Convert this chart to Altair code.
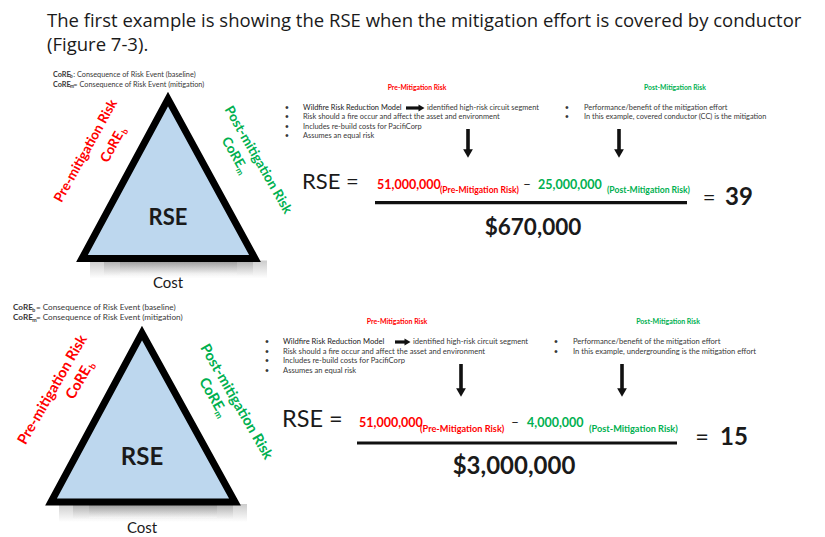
import math
import altair as alt
import pandas as pd

FONT = "Lato"
TITLE_FONT = "Open Sans"
RED = "#ff0000"
GREEN = "#00b050"
INK = "#111111"
GREY = "#383838"
TRI_FILL = "#bdd7ee"

# ---------------- content ----------------
title_lines = [
    "The first example is showing the RSE when the mitigation effort is covered by conductor",
    "(Figure 7-3).",
]
pre_risk = [51000000, 51000000]
post_risk = [25000000, 4000000]
cost = [670000, 3000000]
rse = [39, 15]
legend_sep = [":", "="]
legend_labels = ["baseline", "mitigation"]
legend_subs = ["b", "m"]
model_name = "Wildfire Risk Reduction Model"
model_result = "identified high-risk circuit segment"
pre_bullets = [
    "Risk should a fire occur and affect the asset and environment",
    "Includes re-build costs for PacifiCorp",
    "Assumes an equal risk",
]
post_bullet1 = "Performance/benefit of the mitigation effort"
mitigation = [
    "covered conductor (CC) is the mitigation",
    "undergrounding is the mitigation effort",
]

# ---------------- layout (page pixels) ----------------
L = [
    dict(leg_x=53, leg_y=[75, 85], leg=7.3,
         tri=(168, 99, 82, 255, 258.5),
         rse_t=(168, 218), rse_s=22, cost_t=(168, 283), cost_s=15,
         pre_lbl=(86, 151), post_lbl=(258, 160),
         core_l=(16, 21), core_r=(-19, 18),
         lbl=13.5, ang_l=299, ang_r=60,
         head_pre=(417, 88), head_post=(675, 88), head=6.8,
         bul_x=287, btxt_x=303, lines_y=[108, 117, 127, 136], bsz=7.4,
         arr=(406, 425), ident_x=427,
         rbul_x=567, rtxt_x=584,
         down_x=[468, 619], down_y=(129, 158),
         rse_eq=(302, 182), eq_s=22, pre_val=(377, 185), pre_sub=(440, 190),
         minus=(527, 185), post_val=(538, 185), post_sub=(607, 190), val=12.5, sub=8.6,
         frac=(375, 687, 202.7), cost_val=(533, 228), cv=22.5, eq=(709, 198), res=(725, 198), res_s=24),
    dict(leg_x=13, leg_y=[308, 318], leg=8.2,
         tri=(142, 333, 51, 235, 502),
         rse_t=(142, 458), rse_s=24, cost_t=(142, 528), cost_s=15,
         pre_lbl=(53, 390), post_lbl=(236, 402),
         core_l=(19, 19), core_r=(-19, 18),
         lbl=14.5, ang_l=300, ang_r=60,
         head_pre=(397, 322), head_post=(668, 322), head=7.0,
         bul_x=267, btxt_x=283, lines_y=[342, 352, 361, 371], bsz=7.6,
         arr=(395, 411), ident_x=413,
         rbul_x=556, rtxt_x=573,
         down_x=[461, 622], down_y=(364, 397),
         rse_eq=(282, 420), eq_s=23.5, pre_val=(359, 423), pre_sub=(420, 429),
         minus=(515, 423), post_val=(527, 423), post_sub=(589, 429), val=12.5, sub=9.2,
         frac=(357, 677, 443), cost_val=(514, 467), cv=24, eq=(702, 438), res=(720, 438), res_s=24),
]

XS = alt.Scale(domain=[8, 817], nice=False, zero=False)
YS = alt.Scale(domain=[8, 529], nice=False, zero=False, reverse=True)

groups = {}


def add(weight, align, x, y, text, size, color=INK, angle=0, font=FONT):
    groups.setdefault((weight, align, color, font), []).append(
        dict(x=x, y=y, text=text, size=size, angle=angle))


def rotated_core(lbl_pos, rel, size, ang, sub, color):
    t = math.radians(ang)
    d = (math.cos(t), math.sin(t))
    n = (-math.sin(t), math.cos(t))
    cx = lbl_pos[0] + rel[0] * d[0] + rel[1] * n[0]
    cy = lbl_pos[1] + rel[0] * d[1] + rel[1] * n[1]
    add("bold", "center", cx, cy, "CoRE", size, color, ang)
    w = 2.34 * size
    off = w / 2 + 0.3 * size
    add("bold", "center", cx + off * d[0] + 0.25 * size * n[0],
        cy + off * d[1] + 0.25 * size * n[1], sub, size * 0.62, color, ang)


# title
add("normal", "left", 47, 21, title_lines[0], 18.5, "#1a1a1a", font=TITLE_FONT)
add("normal", "left", 47, 45, title_lines[1], 18.5, "#1a1a1a", font=TITLE_FONT)

tri_rows, shadow_rows, rule_rows, head_rows = [], [], [], []

for i, p in enumerate(L):
    # legend
    for j in range(2):
        s = p["leg"]
        sep = legend_sep[i] if j == 0 else "="
        x0, y0 = p["leg_x"], p["leg_y"][j]
        add("bold", "left", x0, y0, "CoRE", s, GREY)
        add("bold", "left", x0 + 2.34 * s, y0 + 1.6, legend_subs[j], s * 0.65, GREY)
        add("normal", "left", x0 + 2.34 * s + 0.45 * s,
            y0, f" {sep} Consequence of Risk Event ({legend_labels[j]})", s, GREY)

    # triangle
    ax, ay, lx, rx, by = p["tri"]
    tri_rows += [dict(panel=i, x=lx, y=by, y2=by), dict(panel=i, x=ax, y=ay, y2=by),
                 dict(panel=i, x=rx, y=by, y2=by)]
    for k, (inset, op) in enumerate([(0, 0.35), (14, 0.35), (30, 0.35)]):
        shadow_rows.append(dict(x=lx + 8 + inset, x2=rx + 12 - inset, y=by + 2, y2=by + 20 - k * 2, op=op))
    add("bold", "center", p["rse_t"][0], p["rse_t"][1], "RSE", p["rse_s"], "#1a1a1a")
    add("normal", "center", p["cost_t"][0], p["cost_t"][1], "Cost", p["cost_s"], "#1a1a1a")
    add("bold", "center", p["pre_lbl"][0], p["pre_lbl"][1], "Pre-mitigation Risk", p["lbl"], RED, p["ang_l"])
    add("bold", "center", p["post_lbl"][0], p["post_lbl"][1], "Post-mitigation Risk", p["lbl"], GREEN, p["ang_r"])
    rotated_core(p["pre_lbl"], p["core_l"], p["lbl"], p["ang_l"], "b", RED)
    rotated_core(p["post_lbl"], p["core_r"], p["lbl"], p["ang_r"], "m", GREEN)

    # headings
    add("bold", "center", p["head_pre"][0], p["head_pre"][1], "Pre-Mitigation Risk", p["head"], RED)
    add("bold", "center", p["head_post"][0], p["head_post"][1], "Post-Mitigation Risk", p["head"], GREEN)

    # bullets
    ly = p["lines_y"]
    for k in range(4):
        add("normal", "center", p["bul_x"], ly[k], "•", p["bsz"], GREY)
    for k in range(2):
        add("normal", "center", p["rbul_x"], ly[k], "•", p["bsz"], GREY)
    add("normal", "left", p["btxt_x"], ly[0], model_name, p["bsz"], "#222222")
    add("normal", "left", p["ident_x"], ly[0], model_result, p["bsz"], GREY)
    for k, t in enumerate(pre_bullets):
        add("normal", "left", p["btxt_x"], ly[k + 1], t, p["bsz"], GREY)
    add("normal", "left", p["rtxt_x"], ly[0], post_bullet1, p["bsz"], GREY)
    add("normal", "left", p["rtxt_x"], ly[1], "In this example, " + mitigation[i], p["bsz"], GREY)

    # inline arrow
    a0, a1 = p["arr"]
    rule_rows.append(dict(x=a0, x2=a1 - 6, y=ly[0], y2=ly[0], sw=3.2))
    head_rows.append(dict(x=a1 - 3.5, y=ly[0], shape="triangle-right", sz=48))

    # down arrows
    t0, t1 = p["down_y"]
    for dx in p["down_x"]:
        rule_rows.append(dict(x=dx, x2=dx, y=t0, y2=t1 - 8, sw=3.6))
        head_rows.append(dict(x=dx, y=t1 - 4.5, shape="triangle-down", sz=95))

    # formula
    add("normal", "left", p["rse_eq"][0], p["rse_eq"][1], "RSE =", p["eq_s"], "#1a1a1a")
    add("bold", "left", p["pre_val"][0], p["pre_val"][1], f"{pre_risk[i]:,}", p["val"], RED)
    add("bold", "left", p["pre_sub"][0], p["pre_sub"][1], "(Pre-Mitigation Risk)", p["sub"], RED)
    add("normal", "center", p["minus"][0], p["minus"][1], "\u2013", p["val"] * 1.1, "#1a1a1a")
    add("bold", "left", p["post_val"][0], p["post_val"][1], f"{post_risk[i]:,}", p["val"], GREEN)
    add("bold", "left", p["post_sub"][0], p["post_sub"][1], "(Post-Mitigation Risk)", p["sub"], GREEN)
    fx0, fx1, fy = p["frac"]
    rule_rows.append(dict(x=fx0, x2=fx1, y=fy, y2=fy, sw=3.2))
    add("bold", "center", p["cost_val"][0], p["cost_val"][1], f"${cost[i]:,}", p["cv"], "#1a1a1a")
    add("normal", "center", p["eq"][0], p["eq"][1], "=", p["eq_s"], "#1a1a1a")
    add("bold", "left", p["res"][0], p["res"][1], f"{rse[i]}", p["res_s"], "#1a1a1a")

X = lambda f="x": alt.X(f"{f}:Q", scale=XS, axis=None)
Y = lambda f="y": alt.Y(f"{f}:Q", scale=YS, axis=None)

shadow = alt.Chart(pd.DataFrame(shadow_rows)).mark_rect(
    color=alt.Gradient(gradient="linear", x1=0, y1=0, x2=0, y2=1,
                       stops=[alt.GradientStop(offset=0, color="#6e6e6e"),
                              alt.GradientStop(offset=1, color="#ffffff")])
).encode(x=X(), x2="x2:Q", y=Y(), y2="y2:Q", opacity=alt.Opacity("op:Q", scale=None))

tri = alt.Chart(pd.DataFrame(tri_rows)).mark_area(
    fill=TRI_FILL, stroke="black", strokeWidth=7, strokeJoin="miter", opacity=1
).encode(x=X(), y=Y(), y2="y2:Q", detail="panel:N")

rules = alt.Chart(pd.DataFrame(rule_rows)).mark_rule(color=INK).encode(
    x=X(), x2="x2:Q", y=Y(), y2="y2:Q", strokeWidth=alt.StrokeWidth("sw:Q", scale=None))

heads = alt.Chart(pd.DataFrame(head_rows)).mark_point(filled=True, color=INK, opacity=1).encode(
    x=X(), y=Y(), shape=alt.Shape("shape:N", scale=None), size=alt.Size("sz:Q", scale=None))

layers = [shadow, tri, rules, heads]
for (weight, align, color, font), rows in groups.items():
    layers.append(
        alt.Chart(pd.DataFrame(rows)).mark_text(
            align=align, baseline="middle", font=font, fontWeight=weight, color=color
        ).encode(
            x=X(), y=Y(), text="text:N",
            size=alt.Size("size:Q", scale=None),
            angle=alt.Angle("angle:Q", scale=None),
        )
    )

chart = alt.layer(*layers).properties(
    width=809, height=521, padding=0, view=alt.ViewBackground(stroke="transparent", strokeWidth=0)
).configure_view(stroke="transparent", strokeWidth=0)

chart.save("out.html", embed_options={"renderer": "svg", "actions": False})
